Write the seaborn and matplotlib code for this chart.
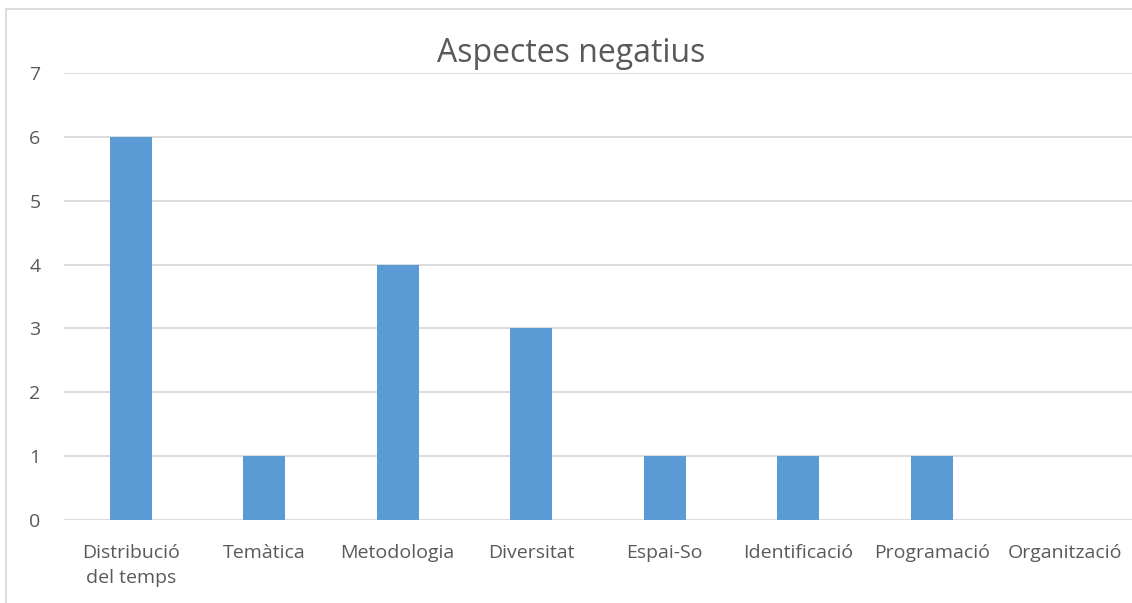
import matplotlib
matplotlib.use("Agg")
import matplotlib.pyplot as plt
import pandas as pd
import seaborn as sns
from matplotlib.patches import Rectangle

categories = ["Distribució\ndel temps", "Temàtica", "Metodologia", "Diversitat",
              "Espai-So", "Identificació", "Programació", "Organització"]
values = [6, 1, 4, 3, 1, 1, 1, 0]

df = pd.DataFrame({"aspecte": categories, "n": values})

sns.set_theme(style="white")
plt.rcParams["font.family"] = ["Open Sans", "DejaVu Sans"]

fig = plt.figure(figsize=(11.32, 6.03), dpi=100)
ax = fig.add_axes([64 / 1132, 1 - 520 / 603, 1 - 64 / 1132, (520 - 73) / 603])

sns.barplot(df, x="aspecte", y="n", color="#5B9BD5", width=0.315,
            saturation=1, linewidth=0, ax=ax, zorder=3)

ax.set_ylim(0, 7)
ax.set_yticks(range(0, 8))
ax.grid(axis="y", color="#D9D9D9", linewidth=1.3, zorder=0)
ax.set_axisbelow(True)
for s in ax.spines.values():
    s.set_visible(False)
ax.set_xlabel("")
ax.set_ylabel("")
ax.tick_params(axis="both", length=0, labelsize=14, labelcolor="#595959")
ax.tick_params(axis="x", pad=17)
ax.tick_params(axis="y", pad=17)
for lbl in ax.get_xticklabels():
    lbl.set_linespacing(1.55)

fig.text(0.505, 1 - 54 / 603, "Aspectes negatius", ha="center", va="center",
         fontsize=23, color="#595959")

# chart border
fig.patches.append(Rectangle((6 / 1132, -0.01), 1.02, 1 - 9 / 603 + 0.01,
                             transform=fig.transFigure, fill=False,
                             edgecolor="#D9D9D9", linewidth=1.3))

fig.savefig("out.png", dpi=100)
